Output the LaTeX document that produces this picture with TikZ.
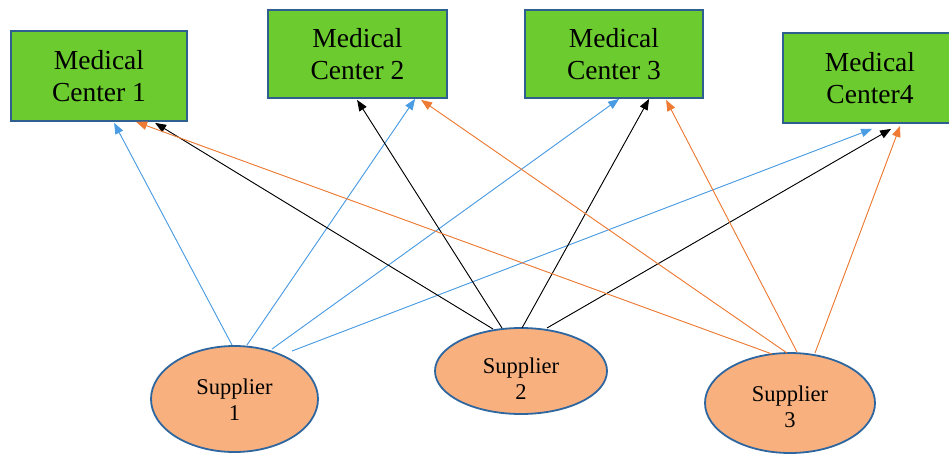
\documentclass[tikz,border=0pt]{standalone}
\usepackage{fontspec}
\setmainfont{Liberation Serif}
\usetikzlibrary{calc,arrows.meta,shapes.geometric}
\definecolor{boxgreen}{HTML}{6CCB2F}
\definecolor{boxedge}{HTML}{2F5F8F}
\definecolor{ellfill}{HTML}{F8B07F}
\definecolor{elledge}{HTML}{2E66A0}
\definecolor{lineblue}{HTML}{4A9CE3}
\definecolor{lineorange}{HTML}{EE7A33}
\tikzset{
  center/.style={draw=boxedge, fill=boxgreen, line width=1.8pt, rectangle,
    inner sep=0pt, align=center, font=\fontsize{27.5}{32}\selectfont},
  supplier/.style={draw=elledge, fill=ellfill, line width=1.8pt, ellipse,
    inner sep=0pt},
  suptext/.style={align=center, inner sep=0pt, font=\fontsize{22.5}{26}\selectfont},
  link/.style={line width=0.9pt, -{Triangle[length=11pt,width=8.5pt]}},
  bl/.style={link, draw=lineblue, fill=lineblue},
  bk/.style={link, draw=black, fill=black},
  og/.style={link, draw=lineorange, fill=lineorange}
}
\begin{document}
\begin{tikzpicture}[x=1pt,y=-1pt]
\useasboundingbox (0,0) rectangle (949,455);
\fill[white] (0,0) rectangle (949,455);
% medical centers
\node[center, minimum width=176pt, minimum height=90pt] (m1) at (99,76) {Medical\\Center 1};
\node[center, minimum width=179pt, minimum height=88pt] (m2) at (357.5,54) {Medical\\Center 2};
\node[center, minimum width=178pt, minimum height=88pt] (m3) at (614,54) {Medical\\Center 3};
\node[center, minimum width=174pt, minimum height=90pt] (m4) at (870,78) {Medical\\Center4};
% suppliers
\node[supplier, minimum width=167pt, minimum height=106pt,
  label={[suptext, yshift=-1pt]center:{Supplier\\1}}] (s1) at (234.5,399) {};
\node[supplier, minimum width=172pt, minimum height=86pt,
  label={[suptext, yshift=-8pt]center:{Supplier\\2}}] (s2) at (521,371) {};
\node[supplier, minimum width=170pt, minimum height=100pt,
  label={[suptext, yshift=-4pt]center:{Supplier\\3}}] (s3) at (790,403) {};
% supplier 1 (blue)
\draw[bl] ($(s1.center)+(-2.5,-54)$) -- ($(m1.south west)+(104,1)$);
\draw[bl] ($(s1.center)+(12.5,-54)$) -- ($(m2.south west)+(148,0)$);
\draw[bl] ($(s1.center)+(37.5,-50)$) -- ($(m3.south west)+(95,0)$);
\draw[bl] ($(s1.center)+(57.5,-48)$) -- ($(m4.south west)+(90,5)$);
% supplier 2 (black)
\draw[bk] ($(s2.center)+(-28,-42)$) -- ($(m1.south west)+(145,1)$);
\draw[bk] ($(s2.center)+(-19,-43)$) -- ($(m2.south west)+(90,1)$);
\draw[bk] ($(s2.center)+(1,-43)$) -- ($(m3.south west)+(125,0)$);
\draw[bk] ($(s2.center)+(26,-43)$) -- ($(m4.south west)+(109,5)$);
% supplier 3 (orange)
\draw[og] ($(s3.center)+(-18,-49)$) -- ($(m1.south west)+(126,0)$);
\draw[og] ($(s3.center)+(-3,-50)$) -- ($(m2.south west)+(154,1)$);
\draw[og] ($(s3.center)+(7,-51)$) -- ($(m3.south west)+(142,1)$);
\draw[og] ($(s3.center)+(25,-50)$) -- ($(m4.south west)+(118,2)$);
\end{tikzpicture}
\end{document}
